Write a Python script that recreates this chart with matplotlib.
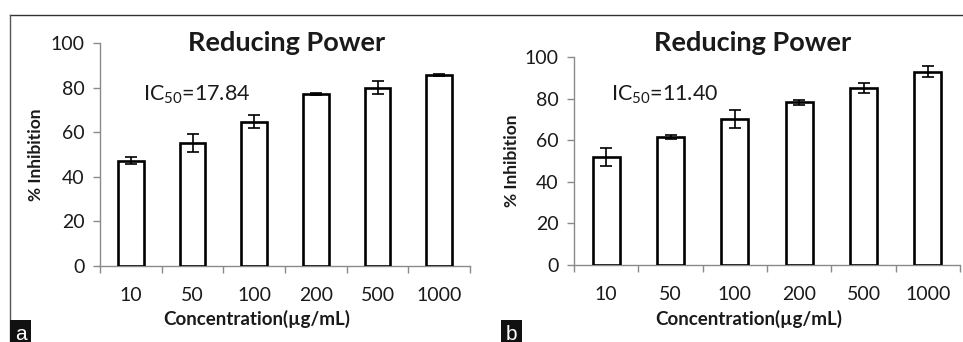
import matplotlib
matplotlib.use("Agg")
import matplotlib.pyplot as plt
from matplotlib.lines import Line2D
import numpy as np

plt.rcParams['font.family'] = ['Lato', 'DejaVu Sans']
plt.rcParams['mathtext.fontset'] = 'custom'
plt.rcParams['mathtext.rm'] = 'Lato'
plt.rcParams['mathtext.it'] = 'Lato:italic'
plt.rcParams['mathtext.bf'] = 'Lato:bold'

categories = ['10', '50', '100', '200', '500', '1000']
values_a = [47.2, 55.2, 64.7, 77.2, 80.0, 85.6]
errors_a = [1.5, 4.0, 3.0, 0.5, 3.0, 0.3]
values_b = [52.0, 61.8, 70.4, 78.3, 85.2, 93.0]
errors_b = [4.5, 1.0, 4.3, 1.2, 2.4, 2.6]
ic50_a = "17.84"
ic50_b = "11.40"
title = "Reducing Power"
ylabel = "% Inhibition"
xlabel = "Concentration(µg/mL)"
yticks = [0, 20, 40, 60, 80, 100]

W, H = 963, 342
fig = plt.figure(figsize=(W / 100, H / 100), dpi=100)

def fx(px):
    return px / W

def fy(py):
    return 1 - py / H

spine_col = '#8a8a8a'
text_col = '#1a1a1a'

def panel(rect, values, errors, ic50, letter, letter_x, title_x, xlabel_x, ylabel_x, ic_x):
    ax = fig.add_axes(rect)
    x = np.arange(len(categories))
    ax.bar(x, values, width=0.42, color='white', edgecolor='black', linewidth=1.9,
           yerr=errors, error_kw=dict(ecolor='black', elinewidth=1.2, capsize=4.5, capthick=1.2),
           zorder=3)
    ax.set_xlim(-0.5, len(categories) - 0.5)
    ax.set_ylim(0, 100)
    for s in ['top', 'right']:
        ax.spines[s].set_visible(False)
    for s in ['left', 'bottom']:
        ax.spines[s].set_color(spine_col)
        ax.spines[s].set_linewidth(1.0)
    ax.set_yticks(yticks)
    ax.set_yticklabels([str(t) for t in yticks], fontsize=14, color=text_col)
    ax.tick_params(axis='y', direction='out', length=5, width=1.0, color=spine_col, pad=6)
    ax.set_xticks(x)
    ax.set_xticklabels(categories, fontsize=14, color=text_col)
    ax.tick_params(axis='x', which='major', length=0, pad=15)
    ax.set_xticks(np.arange(-0.5, len(categories), 1.0), minor=True)
    ax.tick_params(axis='x', which='minor', direction='out', length=5, width=1.0, color=spine_col)
    fig.text(fx(title_x), fy(43), title, ha='center', va='center', fontsize=19.5,
             fontweight='bold', color=text_col)
    fig.text(fx(ylabel_x), (rect[1] + rect[1] + rect[3]) / 2, ylabel, rotation=90,
             ha='center', va='center', fontsize=12.5, fontweight='bold', color=text_col)
    fig.text(fx(xlabel_x), fy(319), xlabel, ha='center', va='center', fontsize=13.5,
             fontweight='bold', color=text_col)
    fig.text(fx(ic_x), fy(95), r"IC$_{50}$=" + ic50, ha='left', va='center', fontsize=15.5,
             color=text_col)
    fig.text(fx(letter_x), fy(334), letter, ha='left', va='center', fontsize=15,
             family='Liberation Sans',
             color='white', bbox=dict(boxstyle='square,pad=0.22', facecolor='#111111',
                                      edgecolor='none'))
    return ax

panel([fx(100), fy(266), fx(370), (266 - 43) / H], values_a, errors_a, ic50_a, 'a',
      15, 287, 257, 36, 143)
panel([fx(574), fy(265), fx(386), (265 - 57.3) / H], values_b, errors_b, ic50_b, 'b',
      506, 753, 749, 512, 611)

# outer frame lines
fig.add_artist(Line2D([fx(10), 1.0], [fy(15), fy(15)], color='#333333', lw=1.0))
fig.add_artist(Line2D([fx(10), fx(10)], [fy(15), 0.0], color='#555555', lw=1.0))

fig.savefig('out.png', dpi=100)
